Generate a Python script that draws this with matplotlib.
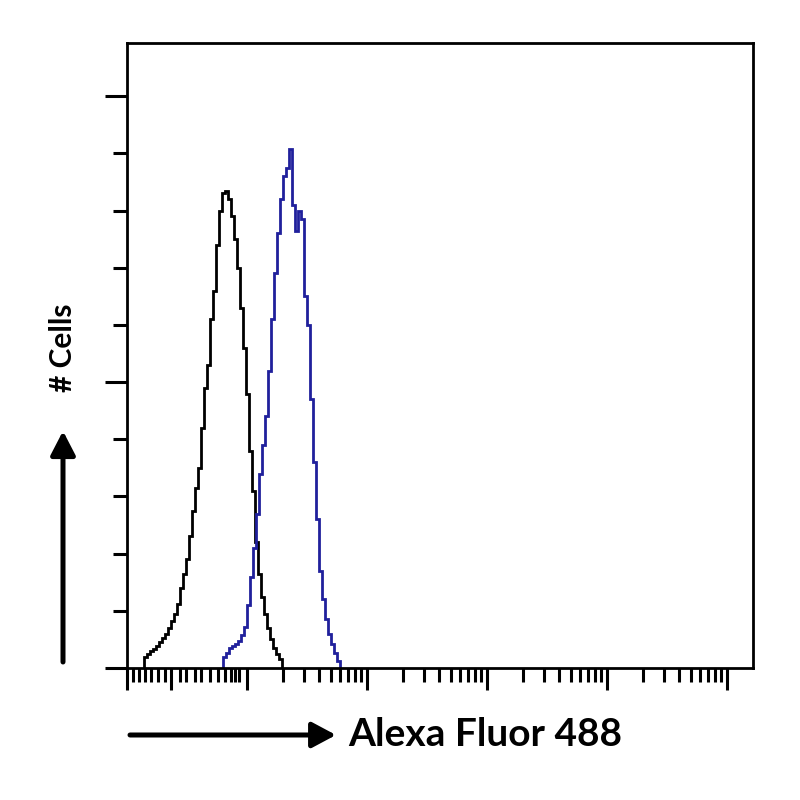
import numpy as np
import matplotlib
matplotlib.use("Agg")
import matplotlib.pyplot as plt
from matplotlib.patches import FancyArrowPatch
from matplotlib.ticker import FixedLocator, NullFormatter

# ---- data (log10 fluorescence bins, counts in y-tick units) ----
bin_width = 0.025  # decades per histogram channel

control_start = 0.14
control_counts = [0.2, 0.25, 0.3, 0.33, 0.38, 0.45, 0.52, 0.6, 0.7, 0.82,
                  0.95, 1.12, 1.4, 1.65, 1.9, 2.3, 2.75, 3.15, 3.5, 4.2,
                  4.9, 5.3, 6.1, 6.6, 7.4, 8.0, 8.3, 8.35, 8.2, 7.9,
                  7.5, 7.0, 6.3, 5.6, 4.8, 3.8, 3.1, 2.2, 1.65, 1.25,
                  0.95, 0.7, 0.5, 0.35, 0.25, 0.15]

stained_start = 0.80
stained_counts = [0.2, 0.27, 0.35, 0.38, 0.42, 0.48, 0.58, 0.72, 1.1, 1.6,
                  2.1, 2.7, 3.4, 3.9, 4.4, 5.2, 6.1, 6.9, 7.6, 8.2,
                  8.6, 8.75, 9.07, 8.1, 7.65, 8.0, 7.85, 6.5, 6.0, 4.7,
                  3.6, 2.6, 1.7, 1.2, 0.85, 0.6, 0.42, 0.27, 0.12]

x_label = "Alexa Fluor 488"
y_label = "# Cells"

# ---- figure ----
fig = plt.figure(figsize=(8, 8), dpi=100)
ax = fig.add_axes([127/800, 132/800, 626/800, 625/800])

def edges(start, n):
    return 10 ** (start + bin_width * np.arange(n + 1))

ax.stairs(control_counts, edges(control_start, len(control_counts)),
          color="black", lw=2.0, baseline=0)
ax.stairs(stained_counts, edges(stained_start, len(stained_counts)),
          color="#20209c", lw=2.0, baseline=0)

ax.set_xscale("log")
ax.set_xlim(1, 10 ** 5.22)
ax.set_ylim(0, 10.93)

# x ticks
major_x = [1, 10 ** 0.37, 10, 100, 1000, 1e4, 1e5]
first_dec = [0.05, 0.1, 0.15, 0.2, 0.26, 0.32, 0.44, 0.49, 0.57, 0.62,
             0.69, 0.76, 0.82, 0.87, 0.9, 0.93]
minor_x = [10 ** v for v in first_dec]
for j in range(1, 5):
    for k in range(2, 10):
        minor_x.append(k * 10 ** j)
ax.xaxis.set_major_locator(FixedLocator(major_x))
ax.xaxis.set_minor_locator(FixedLocator(minor_x))
ax.xaxis.set_major_formatter(NullFormatter())
ax.xaxis.set_minor_formatter(NullFormatter())

# y ticks
ax.yaxis.set_major_locator(FixedLocator([0, 5, 10]))
ax.yaxis.set_minor_locator(FixedLocator([1, 2, 3, 4, 6, 7, 8, 9]))
ax.yaxis.set_major_formatter(NullFormatter())

ax.tick_params(which="major", direction="out", length=16, width=2.2, color="black")
ax.tick_params(which="minor", direction="out", length=10, width=2.2, color="black")
for s in ax.spines.values():
    s.set_linewidth(2.0)

# labels with arrows
fig.text(348/800, 1 - 734/800, x_label, fontsize=28, fontweight="bold",
         family=["Lato", "DejaVu Sans"], ha="left", va="center")
fig.text(63/800, 1 - 348/800, y_label, fontsize=21.5, fontweight="bold",
         family=["Lato", "DejaVu Sans"], ha="center", va="center", rotation=90)

arr_x = FancyArrowPatch((130/800, 1 - 735/800), (336/800, 1 - 735/800),
                        transform=fig.transFigure,
                        arrowstyle="-|>,head_length=0.58,head_width=0.31",
                        mutation_scale=25, lw=3.6, color="black",
                        shrinkA=0, shrinkB=0)
arr_y = FancyArrowPatch((63/800, 1 - 662/800), (63/800, 1 - 431/800),
                        transform=fig.transFigure,
                        arrowstyle="-|>,head_length=0.58,head_width=0.30",
                        mutation_scale=25, lw=3.6, color="black",
                        shrinkA=0, shrinkB=0)
fig.add_artist(arr_x)
fig.add_artist(arr_y)

fig.savefig("out.png", dpi=100, facecolor="white")
